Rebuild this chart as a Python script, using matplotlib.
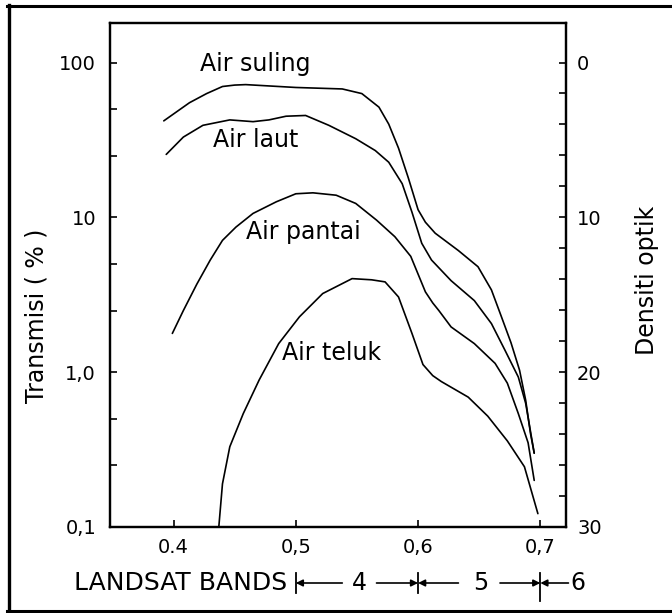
import numpy as np
import matplotlib
matplotlib.use("Agg")
import matplotlib.pyplot as plt
from matplotlib.lines import Line2D
from matplotlib.ticker import FixedLocator, NullFormatter

# ---- data ----
suling_x = [0.392, 0.413, 0.427, 0.440, 0.450, 0.459, 0.500, 0.538, 0.554, 0.568,
            0.576, 0.584, 0.592, 0.600, 0.606, 0.614, 0.633, 0.649, 0.660, 0.668,
            0.676, 0.683, 0.688, 0.692, 0.695]
suling_T = [42, 55, 63, 70, 71.5, 72, 69, 67.5, 63, 51.5,
            40, 28, 18, 11.2, 9.3, 7.9, 6.1, 4.8, 3.4, 2.3,
            1.55, 1.03, 0.66, 0.40, 0.30]

laut_x = [0.394, 0.408, 0.424, 0.446, 0.465, 0.478, 0.492, 0.508, 0.527, 0.549,
          0.565, 0.576, 0.587, 0.595, 0.603, 0.611, 0.627, 0.646, 0.660, 0.671,
          0.682, 0.688, 0.695]
laut_T = [25.5, 33, 39.3, 42.6, 41.5, 42.6, 45, 45.5, 39.3, 32.2,
          27, 22.7, 16.5, 10.8, 6.8, 5.3, 3.9, 2.9, 2.06, 1.39,
          0.93, 0.63, 0.30]

pantai_x = [0.399, 0.408, 0.419, 0.430, 0.440, 0.451, 0.465, 0.484, 0.500, 0.514,
            0.533, 0.549, 0.566, 0.581, 0.594, 0.600, 0.606, 0.612, 0.617, 0.627,
            0.646, 0.663, 0.673, 0.682, 0.690, 0.695]
pantai_T = [1.78, 2.5, 3.7, 5.3, 7.1, 8.65, 10.6, 12.6, 14.2, 14.4,
            13.9, 12.3, 9.6, 7.5, 5.6, 4.3, 3.3, 2.8, 2.5, 1.96,
            1.53, 1.14, 0.85, 0.54, 0.35, 0.20]

teluk_x = [0.437, 0.440, 0.446, 0.457, 0.470, 0.486, 0.503, 0.522, 0.546, 0.562,
           0.573, 0.584, 0.595, 0.604, 0.612, 0.619, 0.641, 0.657, 0.673, 0.687, 0.698]
teluk_T = [0.10, 0.19, 0.33, 0.54, 0.89, 1.53, 2.28, 3.22, 4.02, 3.95,
           3.83, 3.06, 1.78, 1.12, 0.95, 0.87, 0.69, 0.52, 0.36, 0.245, 0.122]

curve_labels = ["Air suling", "Air laut", "Air pantai", "Air teluk"]
label_x = [0.467, 0.467, 0.506, 0.529]
label_T = [98, 31.4, 8.0, 1.33]

xticks = [0.4, 0.5, 0.6, 0.7]
xticklabels = ["0.4", "0,5", "0,6", "0,7"]
yticks = [0.1, 1.0, 10, 100]
yticklabels = ["0,1", "1,0", "10", "100"]
yminor = [0.25, 0.5, 2.5, 5, 25, 50]
dticks = [0, 10, 20, 30]
dminor = list(range(0, 31, 2))

band_edges = [0.5, 0.6, 0.7]
band_names = ["4", "5", "6"]
band_name_x = [0.552, 0.651, 0.731]

XLIM = (0.348, 0.721)
YLIM = (0.1, 180)

plt.rcParams['font.family'] = ['DejaVu Sans']

W, H = 672, 613
fig = plt.figure(figsize=(W / 100, H / 100), dpi=100)
L, R, T, B = 110, 566, 23, 527
ax = fig.add_axes([L / W, 1 - B / H, (R - L) / W, (B - T) / H])

for xs, ys in [(suling_x, suling_T), (laut_x, laut_T), (pantai_x, pantai_T), (teluk_x, teluk_T)]:
    ax.plot(xs, ys, color='black', lw=1.2, solid_capstyle='round', solid_joinstyle='round')

ax.set_yscale('log')
ax.set_xlim(*XLIM)
ax.set_ylim(*YLIM)

for s in ax.spines.values():
    s.set_linewidth(1.6)

ax.set_xticks(xticks)
ax.set_xticklabels(xticklabels, fontsize=14)
ax.yaxis.set_major_locator(FixedLocator(yticks))
ax.set_yticklabels(yticklabels, fontsize=14)
ax.yaxis.set_minor_locator(FixedLocator(yminor))
ax.yaxis.set_minor_formatter(NullFormatter())
ax.tick_params(axis='both', which='major', direction='in', length=5, width=1.2)
ax.tick_params(axis='y', which='major', pad=10)
ax.tick_params(axis='x', which='major', pad=8)
ax.tick_params(axis='y', which='minor', direction='in', length=5, width=1.2)
ax.tick_params(axis='x', which='minor', bottom=False)

for name, x, t in zip(curve_labels, label_x, label_T):
    ax.text(x, t, name, fontsize=17, ha='center', va='center')

ax.set_ylabel("Transmisi ( % )", fontsize=17)
ax.yaxis.set_label_coords(-0.135, 0.42)

# right axis: optical density
ax2 = ax.twinx()
ax2.set_ylim(10 * (2 - np.log10(YLIM[0])), 10 * (2 - np.log10(YLIM[1])))
ax2.set_yticks(dticks)
ax2.set_yticklabels([str(d) for d in dticks], fontsize=14)
ax2.yaxis.set_minor_locator(FixedLocator(dminor))
ax2.tick_params(axis='y', which='both', direction='in', length=5, width=1.2, pad=8)
for s in ax2.spines.values():
    s.set_linewidth(1.6)
ax2.set_ylabel("Densiti optik", fontsize=17, rotation=90)
ax2.yaxis.set_label_coords(1.151, 0.49)

# Landsat bands row
trans = ax.get_xaxis_transform()
yb = (B - 583) / (B - T)
ax.text(0.493, yb, "LANDSAT BANDS", transform=trans, fontsize=18, ha='right', va='center')
for e in band_edges:
    ext = 0.035 if e == 0.7 else 0.02
    ax.plot([e, e], [yb - ext, yb + 0.02], transform=trans, color='black', lw=1.3, clip_on=False)
for nm, nx in zip(band_names, band_name_x):
    ax.text(nx, yb, nm, transform=trans, fontsize=17, ha='center', va='center')
arrow_segments = [(0.538, 0.5), (0.566, 0.6), (0.633, 0.6), (0.667, 0.7), (0.723, 0.7)]
for x0, x1 in arrow_segments:
    ax.annotate('', xy=(x1, yb), xytext=(x0, yb), xycoords=trans, textcoords=trans,
                arrowprops=dict(arrowstyle='-|>', lw=1.2, color='black', mutation_scale=10,
                                shrinkA=0, shrinkB=0),
                annotation_clip=False)

# outer frame of the scanned figure
def fx(p):
    return p / W
def fy(p):
    return 1 - p / H
fig.add_artist(Line2D([fx(7), fx(672)], [fy(6), fy(6)], color='black', lw=2.2))
fig.add_artist(Line2D([fx(9), fx(9)], [fy(5), fy(613)], color='black', lw=2.4))
fig.add_artist(Line2D([fx(7), fx(672)], [fy(611), fy(611)], color='black', lw=2.2))

fig.savefig("out.png", dpi=100)
